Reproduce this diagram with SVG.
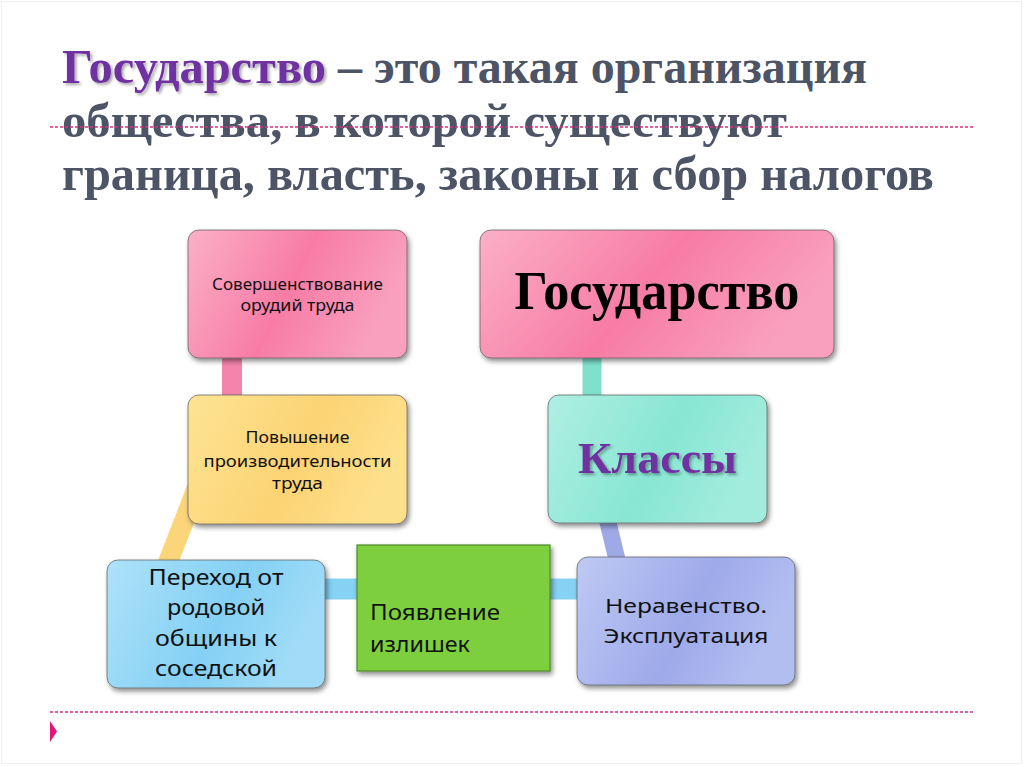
<svg xmlns="http://www.w3.org/2000/svg" width="1024" height="767" viewBox="0 0 1024 767">
<style>
.title{font-family:"Liberation Serif","DejaVu Serif",serif;font-weight:bold;font-size:48px;fill:#4c5465}
.box{stroke:#5a5a5a;stroke-opacity:0.7;stroke-width:1}
.lbl{font-family:"Noto Sans","Open Sans",sans-serif;fill:#111;text-anchor:middle}
.big{font-family:"Liberation Serif","DejaVu Serif",serif;font-weight:bold;text-anchor:middle}
.con{fill:none;stroke-linecap:butt}
.dash{stroke:#d8317c;stroke-width:1.6;stroke-dasharray:3 2}
</style>
<defs>
<filter id="sh" x="-10%" y="-10%" width="125%" height="130%">
<feDropShadow dx="2" dy="3" stdDeviation="2.5" flood-color="#000" flood-opacity="0.45"/>
</filter>
<filter id="tsh" x="-5%" y="-10%" width="115%" height="130%">
<feDropShadow dx="2" dy="2" stdDeviation="1.5" flood-color="#000" flood-opacity="0.35"/>
</filter>
<linearGradient id="gPink" x1="0" y1="0" x2="1" y2="0.3">
<stop offset="0" stop-color="#fbb0c8"/><stop offset="0.55" stop-color="#f77ca5"/><stop offset="1" stop-color="#f9a0be"/>
</linearGradient>
<linearGradient id="gYel" x1="0" y1="0" x2="1" y2="0.3">
<stop offset="0" stop-color="#fde494"/><stop offset="0.6" stop-color="#fcd373"/><stop offset="1" stop-color="#fde08c"/>
</linearGradient>
<linearGradient id="gTeal" x1="0" y1="0" x2="1" y2="0.3">
<stop offset="0" stop-color="#b0efe2"/><stop offset="0.6" stop-color="#88e6d3"/><stop offset="1" stop-color="#a2ecdd"/>
</linearGradient>
<linearGradient id="gBlue" x1="0" y1="0" x2="1" y2="0.3">
<stop offset="0" stop-color="#aee2f9"/><stop offset="0.6" stop-color="#84d0f4"/><stop offset="1" stop-color="#a0dcf7"/>
</linearGradient>
<linearGradient id="gLav" x1="0" y1="0" x2="1" y2="0.3">
<stop offset="0" stop-color="#bfc9f4"/><stop offset="0.6" stop-color="#9eaaea"/><stop offset="1" stop-color="#b3bef0"/>
</linearGradient>
</defs>
<rect x="0" y="0" width="1024" height="767" fill="#fff"/>
<rect x="1.5" y="1.5" width="1020" height="762" fill="none" stroke="#f0f0f0" stroke-width="1"/>

<g id="title">
<text class="title" x="62" y="83" style="fill:#7030a0" filter="url(#tsh)" textLength="264" lengthAdjust="spacingAndGlyphs">Государство</text>
<text class="title" x="338" y="83" textLength="529" lengthAdjust="spacingAndGlyphs">– это такая организация</text>
<text class="title" x="62" y="137" textLength="725" lengthAdjust="spacingAndGlyphs">общества, в которой существуют</text>
<text class="title" x="62" y="190" textLength="872" lengthAdjust="spacingAndGlyphs">граница, власть, законы и сбор налогов</text>
</g>
<line class="dash" x1="50" y1="127" x2="975" y2="127"/>
<line class="dash" x1="50" y1="712" x2="975" y2="712"/>
<polygon points="50,721 57,731.5 50,742" fill="#e0187a"/>

<g id="connectors">
<line class="con" x1="232" y1="350" x2="232" y2="402" stroke="#f584ad" stroke-width="20"/>
<line class="con" x1="592" y1="350" x2="592" y2="402" stroke="#7fe0cc" stroke-width="19"/>
<line class="con" x1="198" y1="485" x2="165" y2="570" stroke="#fcd57a" stroke-width="20"/>
<line class="con" x1="318" y1="589" x2="365" y2="589" stroke="#86d2f5" stroke-width="21"/>
<line class="con" x1="542" y1="589" x2="585" y2="589" stroke="#86d2f5" stroke-width="21"/>
<line class="con" x1="605" y1="510" x2="619" y2="568" stroke="#9ea9e6" stroke-width="17"/>
</g>

<g id="n-sovershenstvovanie">
<rect class="box" x="188" y="230" width="219" height="128" rx="11" fill="url(#gPink)" filter="url(#sh)"/>
<text class="lbl" x="297.5" y="290" font-size="15.5" textLength="171" lengthAdjust="spacingAndGlyphs">Совершенствование</text>
<text class="lbl" x="297.5" y="311" font-size="15.5" textLength="114" lengthAdjust="spacingAndGlyphs">орудий труда</text>
</g>

<g id="n-gosudarstvo">
<rect class="box" x="480" y="230" width="354" height="128" rx="11" fill="url(#gPink)" filter="url(#sh)"/>
<text class="big" x="657" y="309" font-size="54" fill="#000" textLength="285" lengthAdjust="spacingAndGlyphs">Государство</text>
</g>

<g id="n-povyshenie">
<rect class="box" x="188" y="395" width="219" height="129" rx="11" fill="url(#gYel)" filter="url(#sh)"/>
<text class="lbl" x="297.5" y="443" font-size="16.5" textLength="104" lengthAdjust="spacingAndGlyphs">Повышение</text>
<text class="lbl" x="297.5" y="467" font-size="16.5" textLength="188" lengthAdjust="spacingAndGlyphs">производительности</text>
<text class="lbl" x="297.5" y="489" font-size="16.5" textLength="51" lengthAdjust="spacingAndGlyphs">труда</text>
</g>

<g id="n-klassy">
<rect class="box" x="548" y="395" width="219" height="128" rx="11" fill="url(#gTeal)" filter="url(#sh)"/>
<text class="big" x="657.5" y="473" font-size="45" fill="#7030a0" filter="url(#tsh)" textLength="159" lengthAdjust="spacingAndGlyphs">Классы</text>
</g>

<g id="n-perehod">
<rect class="box" x="107" y="560" width="218" height="128" rx="11" fill="url(#gBlue)" filter="url(#sh)"/>
<text class="lbl" x="216" y="585" font-size="22.5" textLength="135" lengthAdjust="spacingAndGlyphs">Переход от</text>
<text class="lbl" x="216" y="615" font-size="22.5" textLength="98" lengthAdjust="spacingAndGlyphs">родовой</text>
<text class="lbl" x="216" y="646" font-size="22.5" textLength="122" lengthAdjust="spacingAndGlyphs">общины к</text>
<text class="lbl" x="216" y="676" font-size="22.5" textLength="122" lengthAdjust="spacingAndGlyphs">соседской</text>
</g>

<g id="n-poyavlenie">
<rect x="357" y="545" width="193" height="126" fill="#7ecf3d" stroke="#4f8a2a" stroke-width="1.2" filter="url(#sh)"/>
<text class="lbl" x="370" y="620" font-size="22" style="text-anchor:start" textLength="130" lengthAdjust="spacingAndGlyphs">Появление</text>
<text class="lbl" x="370" y="652" font-size="22" style="text-anchor:start" textLength="100" lengthAdjust="spacingAndGlyphs">излишек</text>
</g>

<g id="n-neravenstvo">
<rect class="box" x="577" y="557" width="218" height="128" rx="11" fill="url(#gLav)" filter="url(#sh)"/>
<text class="lbl" x="686" y="613" font-size="20.5" textLength="162" lengthAdjust="spacingAndGlyphs">Неравенство.</text>
<text class="lbl" x="686" y="643" font-size="20.5" textLength="165" lengthAdjust="spacingAndGlyphs">Эксплуатация</text>
</g>
</svg>
